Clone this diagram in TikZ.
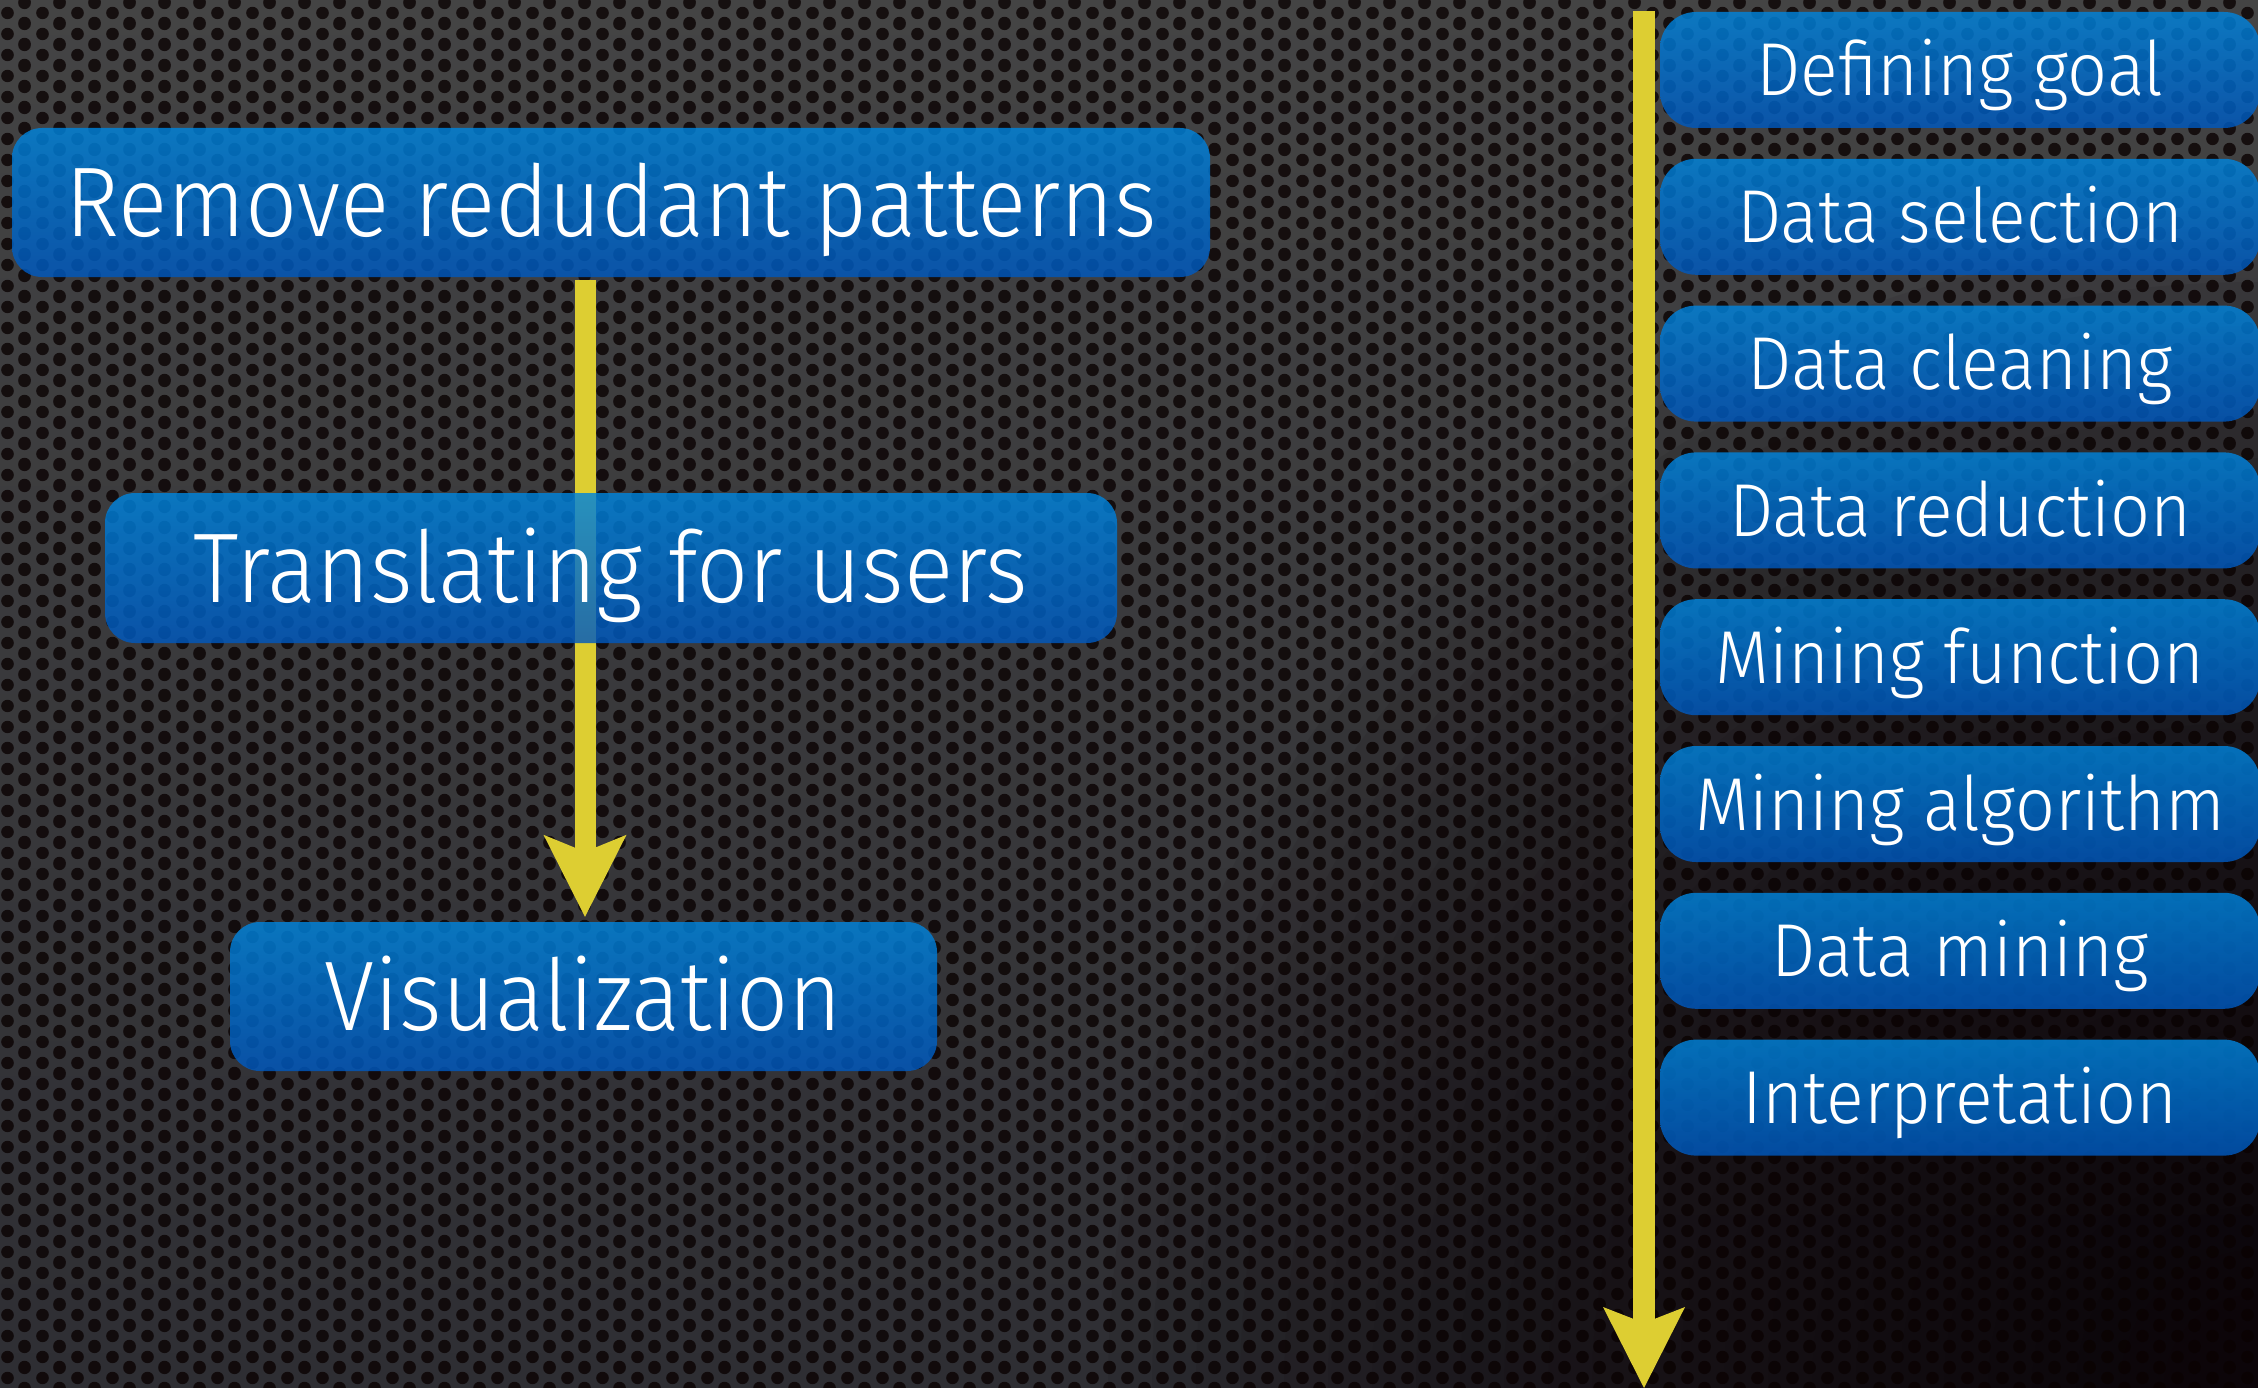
\documentclass[tikz,border=0pt]{standalone}
\usepackage{fontspec}
\setmainfont{Fira Sans Light}
\usetikzlibrary{arrows.meta,patterns.meta}

% colours
\definecolor{arrowyellow}{RGB}{221,206,50}
\definecolor{boxtop}{RGB}{0,132,220}
\definecolor{boxbot}{RGB}{0,88,190}
\definecolor{meshtop}{RGB}{68,68,68}
\definecolor{meshbot}{RGB}{46,46,51}
\definecolor{shadowcorner}{RGB}{12,5,9}
\definecolor{holecolor}{RGB}{10,2,2}

% perforated metal: staggered round holes
\tikzdeclarepattern{
  name=perforation,
  type=uncolored,
  bounding box={(0pt,0pt) and (35pt,21pt)},
  tile size={(35pt,21pt)},
  code={
    \fill (8.75pt,10.5pt) circle [radius=6.5pt];
    \fill (26.25pt,0pt) circle [radius=6.5pt];
    \fill (26.25pt,21pt) circle [radius=6.5pt];
  }
}

\tikzset{
  panel/.style={top color=boxtop, bottom color=boxbot, opacity=0.82,
    inner sep=0pt, draw=none},
  bigbox/.style={panel, rounded corners=30pt, minimum height=149pt},
  stepbox/.style={panel, rounded corners=36pt, minimum width=600pt,
    minimum height=116pt},
  bigtext/.style={font=\fontsize{99}{105}\selectfont, anchor=base,
    inner sep=0pt, text=white},
  smalltext/.style={font=\fontsize{75}{80}\selectfont, anchor=base,
    inner sep=0pt, text=white},
  flowarrow/.style={draw=arrowyellow, line width=21pt,
    -{Stealth[length=82pt, width=83pt, inset=17pt, line width=0pt]}},
  timeline/.style={draw=arrowyellow, line width=22pt,
    -{Stealth[length=81pt, width=82pt, inset=16pt, line width=0pt]}},
}

% white label on a box; #1 box name, #2 style, #3 horizontal squeeze,
% #4 drop from box centre to baseline (pt), #5 text
\newcommand\boxlabel[5]{%
  \node[#2] (#1-txt) at ([yshift={-#4*1pt}]#1.center)
    {\scalebox{#3}[1]{#5}};
}

\begin{document}
\begin{tikzpicture}[x=1pt, y=-1pt]
\useasboundingbox (0,0) rectangle (2258,1388);

% backdrop: metal plate lit from above, falling into shadow
% towards the lower right corner
\begin{scope}
  \clip (0,0) rectangle (2258,1388);
  \foreach \k in {0,...,39} {
    \pgfmathsetmacro\pp{100-100*\k/39}
    \fill[meshtop!\pp!meshbot]
      (0,{34.7*\k}) rectangle (2258,{34.7*(\k+1)+1});
  }
  \foreach \k in {0,...,24} {
    \fill[shadowcorner, fill opacity=0.07]
      (2258,1388) circle ({1150-44*\k});
  }
  \fill[pattern=perforation, pattern color=holecolor, fill opacity=0.8]
    (0,0) rectangle (2258,1388);
\end{scope}

% helper positions for the arrows
\coordinate (lx) at (585,0);
\coordinate (tl-top) at (1644,11);
\coordinate (tl-end) at (1644,1388);

% left column boxes
\node[bigbox, minimum width=1198pt] (remove) at (611,202.5) {};
\node[bigbox, minimum width=707pt] (vis) at (583.5,996.5) {};

% flow arrow (drawn before the middle box so it shows through it)
\draw[flowarrow, shorten <=3pt, shorten >=5pt]
  (remove.south -| lx) -- (vis.north -| lx);

\node[bigbox, minimum width=1012pt, minimum height=150pt] (translate)
  at (611,568) {};

% process timeline
\draw[timeline] (tl-top) -- (tl-end);

% process steps
\node[stepbox] (s1) at (1960,70.0) {};
\node[stepbox] (s2) at (1960,216.8) {};
\node[stepbox] (s3) at (1960,363.6) {};
\node[stepbox] (s4) at (1960,510.4) {};
\node[stepbox] (s5) at (1960,657.2) {};
\node[stepbox] (s6) at (1960,804.0) {};
\node[stepbox] (s7) at (1960,950.8) {};
\node[stepbox] (s8) at (1960,1097.6) {};

% labels
\boxlabel{remove}{bigtext}{0.925}{34}{Remove redudant patterns}
\boxlabel{translate}{bigtext}{0.925}{34}{Translating for users}
\boxlabel{vis}{bigtext}{0.925}{34}{Visualization}
\boxlabel{s1}{smalltext}{0.935}{26}{Defining goal}
\boxlabel{s2}{smalltext}{0.935}{26}{Data selection}
\boxlabel{s3}{smalltext}{0.935}{26}{Data cleaning}
\boxlabel{s4}{smalltext}{0.935}{26}{Data reduction}
\boxlabel{s5}{smalltext}{0.935}{26}{Mining function}
\boxlabel{s6}{smalltext}{0.935}{26}{Mining algorithm}
\boxlabel{s7}{smalltext}{0.935}{26}{Data mining}
\boxlabel{s8}{smalltext}{0.935}{26}{Interpretation}
\end{tikzpicture}
\end{document}
